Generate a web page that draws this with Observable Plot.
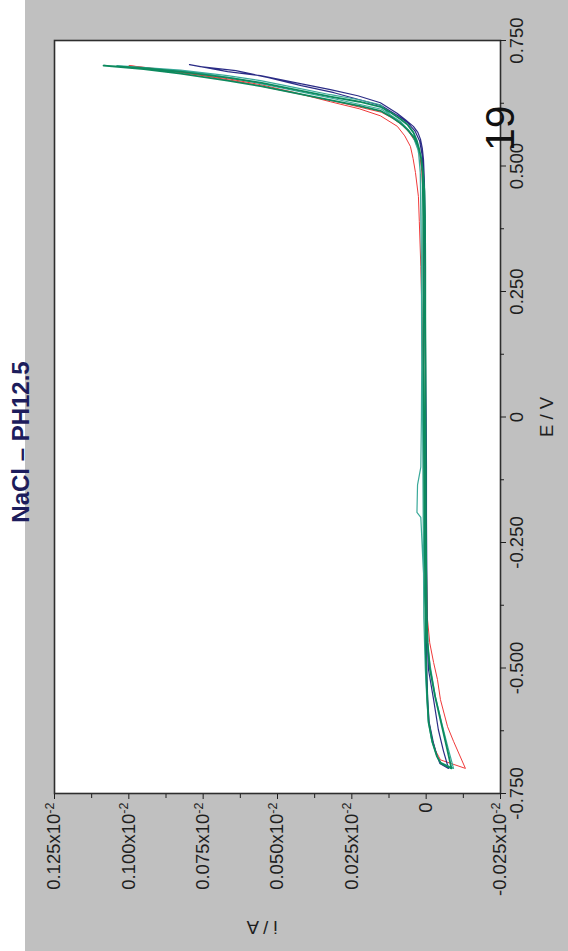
<!DOCTYPE html>
<html>
<head>
<meta charset="utf-8">
<script src="https://cdn.jsdelivr.net/npm/d3@7"></script>
<script src="https://cdn.jsdelivr.net/npm/@observablehq/plot@0.6"></script>
<style>
  html, body { margin: 0; padding: 0; background: #ffffff; overflow: hidden; }
  /* The sheet is laid out landscape and turned a quarter turn counter-clockwise */
  #sheet {
    position: absolute; left: 0; top: 0;
    width: 951px; height: 568px;
    transform-origin: 0 0;
    transform: translateY(951px) rotate(-90deg);
    background: linear-gradient(to bottom, #ffffff 0, #ffffff 25px, #c0c0c0 25px, #c0c0c0 100%);
  }
</style>
</head>
<body>
<div id="sheet"></div>
<script>
// Text
const title = "NaCl – PH12.5";
const pageNumber = "19";
const xLabel = "E / V";
const yLabel = "i / A";

// Potential axis (V)
const xTicks = [-0.75, -0.5, -0.25, 0, 0.25, 0.5, 0.75];
const xTickLabels = ["-0.750", "-0.500", "-0.250", "0", "0.250", "0.500", "0.750"];
const xMinorTicks = [-0.625, -0.375, -0.125, 0.125, 0.375, 0.625];

// Current axis, in units of 10^-2 A
const yTicks = [-0.025, 0, 0.025, 0.05, 0.075, 0.1, 0.125];
const yTickLabels = ["-0.025", "0", "0.025", "0.050", "0.075", "0.100", "0.125"];
const yTickExponent = "-2";
const yMinorTicks = [-0.0125, 0.0125, 0.0375, 0.0625, 0.0875, 0.1125];

// Cyclic voltammograms: [E (V), i (10^-2 A)] in scan order
const cycle1 = [
  [0.00, 0.0008], [0.10, 0.0011], [0.20, 0.0014], [0.30, 0.0018], [0.389, 0.0023], [0.439, 0.0026],
  [0.487, 0.0036], [0.515, 0.0044], [0.539, 0.0053], [0.560, 0.0072], [0.579, 0.0097], [0.600, 0.0154],
  [0.614, 0.0225], [0.628, 0.0322], [0.646, 0.0440], [0.662, 0.0557], [0.674, 0.0668], [0.686, 0.0826],
  [0.700, 0.1000],
  [0.692, 0.0880], [0.682, 0.0770], [0.668, 0.0630], [0.656, 0.0530], [0.628, 0.0300], [0.607, 0.0150],
  [0.594, 0.0110], [0.581, 0.0080], [0.566, 0.0056], [0.548, 0.0036], [0.525, 0.0022], [0.490, 0.0015],
  [0.40, 0.0006], [0.30, 0.0004], [0.20, 0.0004], [0.10, 0.0003], [0.00, 0.0003], [-0.10, 0.0002],
  [-0.20, 0.0001], [-0.30, -0.0001], [-0.40, -0.0004], [-0.45, -0.0012], [-0.489, -0.0025],
  [-0.523, -0.0038], [-0.563, -0.0048], [-0.617, -0.0072], [-0.646, -0.0092], [-0.700, -0.0132],
  [-0.683, -0.0048], [-0.665, -0.0032], [-0.640, -0.0019], [-0.605, -0.0008], [-0.560, -0.0003],
  [-0.50, 0.0000], [-0.40, 0.0002], [-0.20, 0.0005], [0.00, 0.0008]
];
const cycle2 = [
  [0.00, 0.0002], [0.10, 0.0002], [0.20, 0.0003], [0.30, 0.0003], [0.40, 0.0004], [0.47, 0.0006],
  [0.513, 0.0009], [0.535, 0.0013], [0.553, 0.0019], [0.567, 0.0028], [0.579, 0.0043], [0.592, 0.0070],
  [0.605, 0.0098], [0.626, 0.0154], [0.640, 0.0230], [0.652, 0.0322], [0.666, 0.0440], [0.680, 0.0557],
  [0.688, 0.0668], [0.696, 0.0740], [0.702, 0.0796],
  [0.698, 0.0760], [0.690, 0.0640], [0.676, 0.0530], [0.660, 0.0420], [0.646, 0.0310], [0.620, 0.0150],
  [0.600, 0.0095], [0.585, 0.0060], [0.570, 0.0038], [0.550, 0.0022], [0.520, 0.0013], [0.48, 0.0010],
  [0.40, 0.0006], [0.30, 0.0004], [0.20, 0.0003], [0.10, 0.0002], [0.00, 0.0000], [-0.10, -0.0001],
  [-0.20, -0.0001], [-0.30, -0.0002], [-0.40, -0.0003], [-0.45, -0.0005], [-0.504, -0.0008],
  [-0.563, -0.0025], [-0.623, -0.0041], [-0.665, -0.0058], [-0.700, -0.0075],
  [-0.690, -0.0046], [-0.676, -0.0037], [-0.648, -0.0024], [-0.608, -0.0010], [-0.562, -0.0005],
  [-0.50, -0.0002], [-0.40, 0.0000], [-0.20, 0.0001], [0.00, 0.0002]
];
const cycle3 = [
  [0.00, 0.0012], [0.10, 0.0013], [0.20, 0.0014], [0.30, 0.0016], [0.40, 0.0018], [0.45, 0.0019],
  [0.49, 0.0020], [0.52, 0.0024], [0.540, 0.0030], [0.556, 0.0040], [0.572, 0.0060], [0.588, 0.0085],
  [0.600, 0.0117], [0.622, 0.0154], [0.632, 0.0225], [0.642, 0.0322], [0.656, 0.0440], [0.670, 0.0557],
  [0.680, 0.0668], [0.691, 0.0826], [0.700, 0.1040],
  [0.694, 0.0900], [0.686, 0.0780], [0.674, 0.0640], [0.662, 0.0540], [0.634, 0.0310], [0.613, 0.0150],
  [0.588, 0.0085], [0.560, 0.0045], [0.530, 0.0026], [0.48, 0.0019], [0.40, 0.0017], [0.30, 0.0016],
  [0.10, 0.0015], [0.00, 0.0016], [-0.10, 0.0018], [-0.135, 0.0029], [-0.19, 0.0031], [-0.20, 0.0018],
  [-0.30, 0.0010], [-0.40, 0.0000], [-0.45, -0.0004], [-0.497, -0.0014], [-0.557, -0.0031],
  [-0.616, -0.0055], [-0.660, -0.0074], [-0.700, -0.0092],
  [-0.688, -0.0048], [-0.672, -0.0034], [-0.645, -0.0019], [-0.605, -0.0007], [-0.560, -0.0002],
  [-0.50, 0.0003], [-0.40, 0.0008], [-0.20, 0.0010], [0.00, 0.0012]
];
const cycle4 = [
  [0.00, 0.0008], [0.10, 0.0009], [0.20, 0.0009], [0.30, 0.0010], [0.40, 0.0010], [0.45, 0.0011],
  [0.487, 0.0012], [0.515, 0.0017], [0.533, 0.0023], [0.550, 0.0031], [0.567, 0.0043], [0.582, 0.0062],
  [0.593, 0.0086], [0.606, 0.0118], [0.618, 0.0154], [0.628, 0.0225], [0.638, 0.0322], [0.652, 0.0440],
  [0.666, 0.0557], [0.676, 0.0668], [0.688, 0.0826], [0.695, 0.0950], [0.700, 0.1085],
  [0.693, 0.0950], [0.684, 0.0826], [0.670, 0.0668], [0.659, 0.0557], [0.631, 0.0322], [0.620, 0.0225],
  [0.610, 0.0154], [0.598, 0.0118], [0.585, 0.0086], [0.572, 0.0062], [0.556, 0.0040], [0.540, 0.0027],
  [0.520, 0.0018], [0.490, 0.0011], [0.45, 0.0006], [0.40, 0.0004], [0.30, 0.0003], [0.20, 0.0003],
  [0.10, 0.0002], [0.00, 0.0002], [-0.10, 0.0001], [-0.20, 0.0001], [-0.30, 0.0000], [-0.40, -0.0002],
  [-0.45, -0.0005], [-0.50, -0.0012], [-0.557, -0.0030], [-0.616, -0.0053], [-0.660, -0.0070],
  [-0.700, -0.0085],
  [-0.690, -0.0050], [-0.676, -0.0036], [-0.648, -0.0021], [-0.608, -0.0008], [-0.562, -0.0004],
  [-0.523, -0.0001], [-0.45, 0.0002], [-0.30, 0.0004], [-0.20, 0.0006], [-0.10, 0.0007], [0.00, 0.0008]
];

const cycles = [cycle1, cycle2, cycle3, cycle4];
const cycleColors = ["#f03a3a", "#2b2c86", "#3aa99a", "#0c8a5e"];
const cycleWidths = [1, 1.2, 1.2, 1.8];

const fontFamily = "'Liberation Sans', Arial, Helvetica, sans-serif";
const tickFont = 18.5;

const chart = Plot.plot({
  width: 951,
  height: 568,
  marginLeft: 157,
  marginRight: 41,
  marginTop: 54,
  marginBottom: 68,
  style: { background: "transparent", fontFamily, color: "#1e1e1e", overflow: "visible" },
  x: { domain: [-0.75, 0.75], label: null },
  y: { domain: [-0.025, 0.125], label: null },
  marks: [
    Plot.frame({ fill: "white" }),
    ...cycles.map((c, k) => Plot.line(c, {
      x: d => d[0], y: d => d[1],
      stroke: cycleColors[k], strokeWidth: cycleWidths[k], curve: "linear"
    })),
    Plot.frame({ stroke: "#2e2e2e", strokeWidth: 1.6 }),
    Plot.axisX(xTicks, {
      anchor: "bottom", tickSize: 6, tickPadding: 3, fontSize: tickFont, label: null,
      tickFormat: d => xTickLabels[xTicks.indexOf(d)]
    }),
    Plot.axisX(xMinorTicks, { anchor: "bottom", tickSize: 4, label: null, tickFormat: () => "" }),
    Plot.axisY(yTicks, {
      anchor: "left", tickSize: 5, tickPadding: 4, fontSize: tickFont, label: null,
      tickFormat: d => yTickLabels[yTicks.indexOf(d)]
    }),
    Plot.axisY(yMinorTicks, { anchor: "left", tickSize: 4, label: null, tickFormat: () => "" }),
    Plot.text([xLabel], { frameAnchor: "bottom", lineAnchor: "top", dy: 39, fontSize: tickFont }),
    Plot.text([yLabel], { frameAnchor: "left", rotate: -90, lineAnchor: "top", dx: -141, fontSize: tickFont }),
    Plot.text([title], {
      frameAnchor: "top", lineAnchor: "bottom", dx: -25, dy: -26,
      fontSize: 24, fontWeight: "bold", fill: "#1d1d5c"
    }),
    Plot.text([pageNumber], {
      frameAnchor: "top-right", textAnchor: "start", lineAnchor: "bottom",
      dx: -110.5, dy: 459, fontSize: 41, fill: "#111111"
    })
  ]
});

// Scientific notation on current tick labels: mantissa followed by x10 and a raised exponent
chart.querySelectorAll('g[aria-label="y-axis tick label"] text').forEach(t => {
  const s = t.textContent;
  if (s && s !== "0") {
    t.textContent = s + "x10";
    const sup = document.createElementNS("http://www.w3.org/2000/svg", "tspan");
    sup.setAttribute("dy", "-0.5em");
    sup.setAttribute("font-size", "0.68em");
    sup.textContent = yTickExponent;
    t.appendChild(sup);
  }
});

chart.style.position = "absolute";
chart.style.left = "0";
chart.style.top = "0";
document.getElementById("sheet").appendChild(chart);
</script>
</body>
</html>
